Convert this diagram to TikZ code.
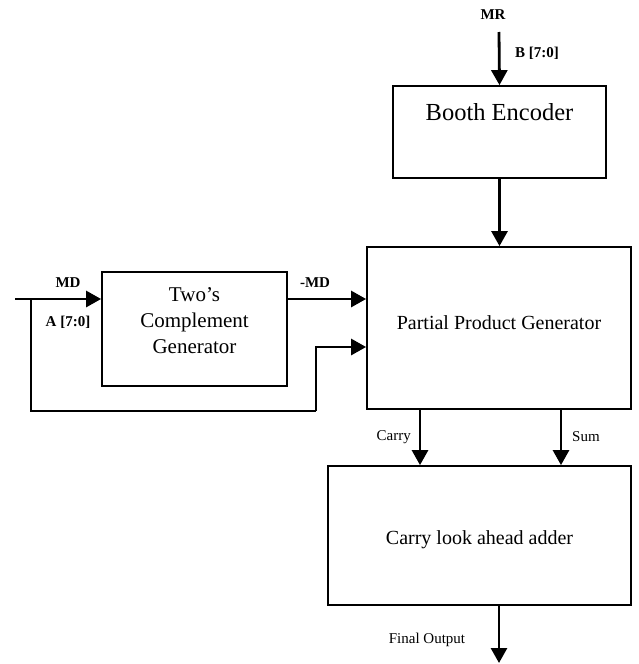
\documentclass[tikz,border=0pt]{standalone}
\usepackage{fontspec}
\setmainfont{Liberation Serif}
\usetikzlibrary{arrows.meta}
\begin{document}
\begin{tikzpicture}[x=1pt,y=-1pt,
  box/.style={draw, line width=1.8pt, inner sep=0pt},
  conn/.style={line width=2.8pt, -{Triangle[length=15pt,width=16pt]}},
  wire/.style={line width=1.9pt},
  lbl/.style={font=\fontsize{15}{18}\selectfont\bfseries, inner sep=0pt},
  sml/.style={font=\fontsize{15}{18}\selectfont, inner sep=0pt},
  big/.style={inner sep=0pt, align=center}]
\useasboundingbox (0,0) rectangle (638,664);
% boxes
\node[box, minimum width=213pt, minimum height=92pt] (booth) at (499.5,132) {};
\node[big, font=\fontsize{24.5}{28}\selectfont] (boothtxt) at (499.5,112) {Booth Encoder};
\node[box, minimum width=264pt, minimum height=162pt] (ppg) at (499,328) {};
\node[big, font=\fontsize{20}{24}\selectfont] (ppgtxt) at (499,323) {Partial Product Generator};
\node[box, minimum width=185pt, minimum height=114pt] (two) at (194.5,329) {};
\node[big, font=\fontsize{21}{26}\selectfont] (twotxt) at (194.5,321) {Two’s\\Complement\\Generator};
\node[box, minimum width=303pt, minimum height=139pt] (cla) at (479.5,535.5) {};
\node[big, font=\fontsize{20}{24}\selectfont] (clatxt) at (479.5,540) {Carry look ahead adder};
% coordinates
\coordinate (mrtop) at (499,32);
\coordinate (mdin) at (15,299);
\coordinate (fbstart) at (31,299);
\coordinate (fbcorner) at (316,411);
\coordinate (fblevel) at (0,347);
\coordinate (carryx) at (420,0);
\coordinate (sumx) at (561,0);
\coordinate (outx) at (499,0);
\coordinate (outend) at (499,663);
% connectors
\draw[conn] (mrtop) -- (booth.north);
\draw[conn] (booth.south) -- (booth.south |- ppg.north);
\draw[conn] (mdin) -- (mdin -| two.west);
\draw[conn] (two.east |- mdin) -- (ppg.west |- mdin);
\draw[wire] (fbstart) |- (fbcorner);
\draw[conn] (fbcorner) |- (ppg.west |- fblevel);
\draw[conn] (ppg.south -| carryx) -- (cla.north -| carryx);
\draw[conn] (ppg.south -| sumx) -- (cla.north -| sumx);
\draw[conn] (cla.south -| outx) -- (outend);
% labels
\node[lbl] (mr) at (493,15) {MR};
\node[lbl] (b70) at (537,53) {B [7:0]};
\node[lbl] (md) at (68,283) {MD};
\node[lbl] (a70) at (68,322) {A [7:0]};
\node[lbl] (nmd) at (315,283) {-MD};
\node[sml, anchor=east] (carry) at (411,437) {Carry};
\node[sml, anchor=west] (sum) at (572,437) {Sum};
\node[sml, font=\fontsize{15}{18}\selectfont] (final) at (427,640) {Final Output};
\end{tikzpicture}
\end{document}
